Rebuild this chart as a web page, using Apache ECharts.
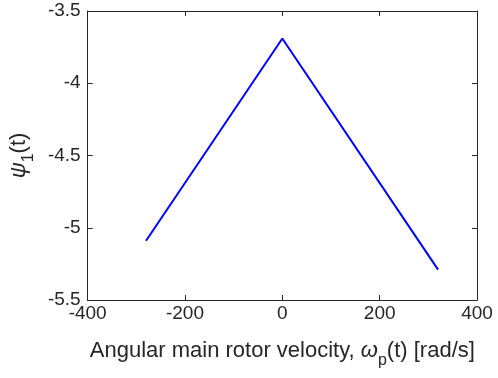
<!DOCTYPE html>
<html><head><meta charset="utf-8">
<script src="https://cdn.jsdelivr.net/npm/echarts@6/dist/echarts.min.js"></script>
<style>html,body{margin:0;padding:0;background:#fff}#c{width:498px;height:378px}</style>
</head><body><div id="c"></div>
<script>
const xValues = [-280, 0, 320];
const yValues = [-5.09, -3.69, -5.29];
const xTicks = [-400, -200, 0, 200, 400];
const yTicks = [-5.5, -5, -4.5, -4, -3.5];

const font = 'Liberation Sans, Arial, sans-serif';
const axisColor = '#262626';
const chart = echarts.init(document.getElementById('c'));
const common = {
  axisLine: {show: true, onZero: false, lineStyle: {color: axisColor, width: 1}},
  axisTick: {show: true, inside: true, length: 5, lineStyle: {color: axisColor}},
  splitLine: {show: false}
};
const rich = {
  a: {fontSize: 22, fontFamily: font, color: axisColor, lineHeight: 24, verticalAlign: 'top'},
  i: {fontSize: 22, fontFamily: font, fontStyle: 'italic', color: axisColor, lineHeight: 24, verticalAlign: 'top'},
  sub: {fontSize: 16, fontFamily: font, color: axisColor, lineHeight: 16, padding: [13, 0, 0, 0], verticalAlign: 'top'}
};
chart.setOption({
  animation: false,
  grid: {left: 87, right: 21, top: 11, bottom: 78},
  xAxis: [
    Object.assign({}, common, {
      type: 'value', min: xTicks[0], max: xTicks[xTicks.length-1], interval: 200,
      axisLabel: {color: axisColor, fontSize: 19, fontFamily: font, margin: 4},
      name: '{a|Angular main rotor velocity, }{i|ω}{sub|p}{a|(t) [rad/s]}',
      nameLocation: 'middle', nameGap: 40,
      nameTextStyle: {color: axisColor, fontSize: 22, fontFamily: font, rich: rich}
    }),
    Object.assign({}, common, {
      type: 'value', position: 'top', min: xTicks[0], max: xTicks[xTicks.length-1], interval: 200,
      axisLabel: {show: false}
    })
  ],
  yAxis: [
    Object.assign({}, common, {
      type: 'value', min: yTicks[0], max: yTicks[yTicks.length-1], interval: 0.5,
      axisLabel: {color: axisColor, fontSize: 19, fontFamily: font, margin: 7},
      name: '{i|ψ}{sub|1}{a|(t)}',
      nameLocation: 'middle', nameGap: 52, nameRotate: 90,
      nameTextStyle: {color: axisColor, fontSize: 22, fontFamily: font, rich: rich}
    }),
    Object.assign({}, common, {
      type: 'value', position: 'right', min: yTicks[0], max: yTicks[yTicks.length-1], interval: 0.5,
      axisLabel: {show: false}
    })
  ],
  series: [{
    type: 'line',
    data: xValues.map((x, i) => [x, yValues[i]]),
    showSymbol: false,
    lineStyle: {color: '#0000ff', width: 2},
    itemStyle: {color: '#0000ff'}
  }]
});
</script></body></html>
